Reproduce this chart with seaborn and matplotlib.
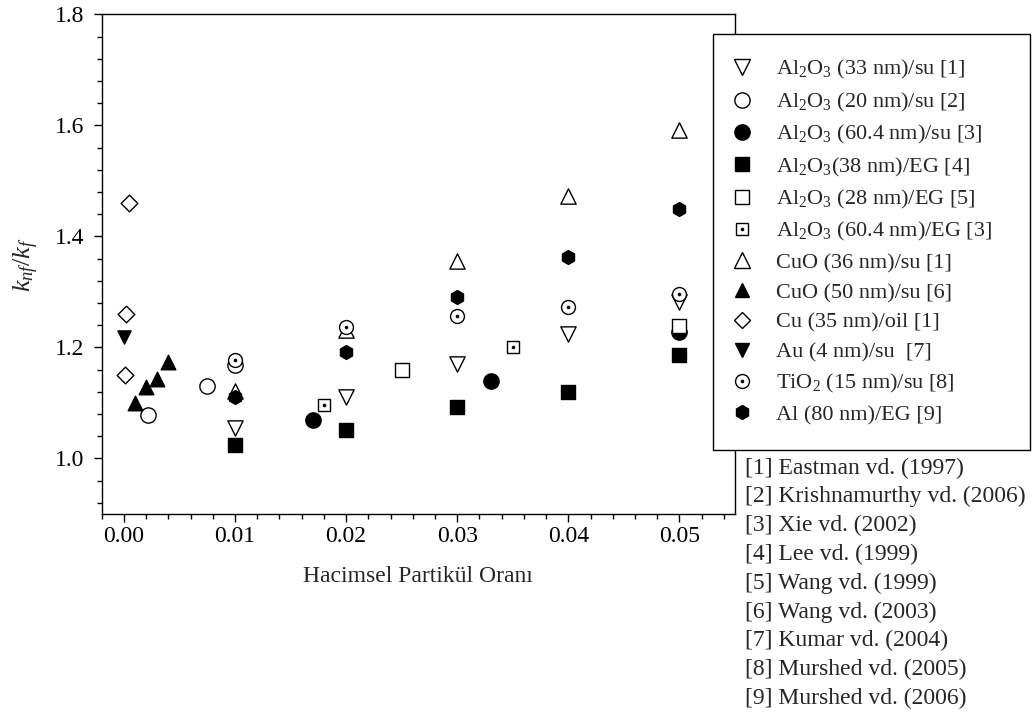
import pandas as pd
import seaborn as sns
import matplotlib.pyplot as plt
from matplotlib.lines import Line2D
from matplotlib.legend_handler import HandlerTuple
from matplotlib.ticker import MultipleLocator, FormatStrFormatter

# Legend labels (same order as the drawing order)
labels = [
    r'Al$_2$O$_3$ (33 nm)/su [1]',
    r'Al$_2$O$_3$ (20 nm)/su [2]',
    r'Al$_2$O$_3$ (60.4 nm)/su [3]',
    r'Al$_2$O$_3$(38 nm)/EG [4]',
    r'Al$_2$O$_3$ (28 nm)/EG [5]',
    r'Al$_2$O$_3$ (60.4 nm)/EG [3]',
    'CuO (36 nm)/su [1]',
    'CuO (50 nm)/su [6]',
    'Cu (35 nm)/oil [1]',
    'Au (4 nm)/su  [7]',
    r'TiO$_2$ (15 nm)/su [8]',
    'Al (80 nm)/EG [9]',
]

# volume fraction (x) and k_nf/k_f (y)
al2o3_33_x = [0.01, 0.02, 0.03, 0.04, 0.05]
al2o3_33_y = [1.055, 1.111, 1.171, 1.225, 1.282]
al2o3_20_x = [0.0022, 0.0075, 0.01]
al2o3_20_y = [1.079, 1.130, 1.168]
al2o3_604_x = [0.017, 0.033, 0.05]
al2o3_604_y = [1.070, 1.139, 1.228]
al2o3_38eg_x = [0.01, 0.02, 0.03, 0.04, 0.05]
al2o3_38eg_y = [1.025, 1.051, 1.093, 1.120, 1.186]
al2o3_28eg_x = [0.025, 0.05]
al2o3_28eg_y = [1.160, 1.238]
al2o3_604eg_x = [0.018, 0.035]
al2o3_604eg_y = [1.096, 1.201]
cuo_36_x = [0.01, 0.02, 0.03, 0.04, 0.05]
cuo_36_y = [1.121, 1.232, 1.355, 1.472, 1.591]
cuo_50_x = [0.001, 0.002, 0.003, 0.004]
cuo_50_y = [1.100, 1.128, 1.143, 1.174]
cu_oil_x = [0.0001, 0.0002, 0.0005]
cu_oil_y = [1.150, 1.260, 1.460]
au_x = [0.0]
au_y = [1.218]
tio2_x = [0.01, 0.02, 0.03, 0.04, 0.05]
tio2_y = [1.177, 1.237, 1.257, 1.273, 1.296]
al_eg_x = [0.01, 0.02, 0.03, 0.04, 0.05]
al_eg_y = [1.111, 1.192, 1.290, 1.362, 1.450]

xs = [al2o3_33_x, al2o3_20_x, al2o3_604_x, al2o3_38eg_x, al2o3_28eg_x, al2o3_604eg_x,
      cuo_36_x, cuo_50_x, cu_oil_x, au_x, tio2_x, al_eg_x]
ys = [al2o3_33_y, al2o3_20_y, al2o3_604_y, al2o3_38eg_y, al2o3_28eg_y, al2o3_604eg_y,
      cuo_36_y, cuo_50_y, cu_oil_y, au_y, tio2_y, al_eg_y]

references = [
    '[1] Eastman vd. (1997)',
    '[2] Krishnamurthy vd. (2006)',
    '[3] Xie vd. (2002)',
    '[4] Lee vd. (1999)',
    '[5] Wang vd. (1999)',
    '[6] Wang vd. (2003)',
    '[7] Kumar vd. (2004)',
    '[8] Murshed vd. (2005)',
    '[9] Murshed vd. (2006)',
]

df = pd.concat(
    [pd.DataFrame({'phi': x, 'k': y, 'seri': lab}) for lab, x, y in zip(labels, xs, ys)],
    ignore_index=True,
)

# marker, size (pt), face colour, centre dot?
styles = [
    ('v', 11, 'white', False),
    ('o', 11, 'white', False),
    ('o', 11, 'black', False),
    ('s', 10, 'black', False),
    ('s', 9.5, 'white', False),
    ('s', 8.5, 'white', True),
    ('^', 11, 'white', False),
    ('^', 10.5, 'black', False),
    ('D', 8.5, 'white', False),
    ('v', 9.5, 'black', False),
    ('o', 10, 'white', True),
    ('h', 10, 'black', False),
]

sns.set_style('ticks')
plt.rcParams['font.family'] = ['Liberation Serif', 'DejaVu Serif']
plt.rcParams['mathtext.fontset'] = 'custom'
plt.rcParams['mathtext.rm'] = 'Liberation Serif'
plt.rcParams['mathtext.it'] = 'Liberation Serif:italic'
plt.rcParams['mathtext.bf'] = 'Liberation Serif:bold'
plt.rcParams['axes.edgecolor'] = 'black'
plt.rcParams['xtick.color'] = 'black'
plt.rcParams['ytick.color'] = 'black'

fig = plt.figure(figsize=(10.32, 7.22), dpi=100)
ax = fig.add_axes([0.0985, 0.2881, 0.6137, 0.6921])

handles = []
for lab, (mk, ms, fc, dot) in zip(labels, styles):
    sub = df[df['seri'] == lab]
    sns.scatterplot(data=sub, x='phi', y='k', marker=mk, s=ms ** 2,
                    facecolor=fc, edgecolor='black', linewidth=1.0,
                    legend=False, ax=ax)
    h = Line2D([], [], ls='none', marker=mk, ms=ms, mfc=fc, mec='black', mew=1.0)
    if dot:
        sns.scatterplot(data=sub, x='phi', y='k', marker='o', s=2.6 ** 2,
                        color='black', linewidth=0, legend=False, ax=ax)
        d = Line2D([], [], ls='none', marker='o', ms=2.6, mfc='black', mec='black', mew=0)
        h = (h, d)
    handles.append(h)

ax.set_xlim(-0.002, 0.055)
ax.set_ylim(0.9, 1.8)
ax.xaxis.set_major_locator(MultipleLocator(0.01))
ax.xaxis.set_minor_locator(MultipleLocator(0.002))
ax.yaxis.set_major_locator(MultipleLocator(0.2))
ax.yaxis.set_minor_locator(MultipleLocator(0.04))
ax.xaxis.set_major_formatter(FormatStrFormatter('%.2f'))
ax.yaxis.set_major_formatter(FormatStrFormatter('%.1f'))
ax.tick_params(which='major', direction='out', length=5.5, width=1.0, labelsize=17)
ax.tick_params(which='minor', direction='out', length=3.5, width=1.0)
ax.tick_params(axis='x', which='major', pad=3)
ax.tick_params(axis='y', which='major', pad=7)
for sp in ax.spines.values():
    sp.set_linewidth(1.0)

ax.set_xlabel('Hacimsel Partikül Oranı', fontsize=17, labelpad=14)
ax.set_ylabel(r'$k_{nf}/k_f$', fontsize=19, labelpad=10)

leg = fig.legend(handles, labels, loc='upper left',
                 bbox_to_anchor=(713 / 1032, 0, (1030 - 713) / 1032, 1 - 34 / 722),
                 mode='expand', borderaxespad=0, fontsize=16,
                 handler_map={tuple: HandlerTuple(ndivide=1)},
                 frameon=True, fancybox=False, framealpha=1, edgecolor='black',
                 borderpad=1.1, labelspacing=0.42, handlelength=0.4, handletextpad=1.35)
leg.get_frame().set_linewidth(1.0)

for i, ref in enumerate(references):
    fig.text(745 / 1032, 1 - (468 + 28.8 * i) / 722, ref, fontsize=17, va='center', ha='left')

fig.savefig('out.png', dpi=100)
